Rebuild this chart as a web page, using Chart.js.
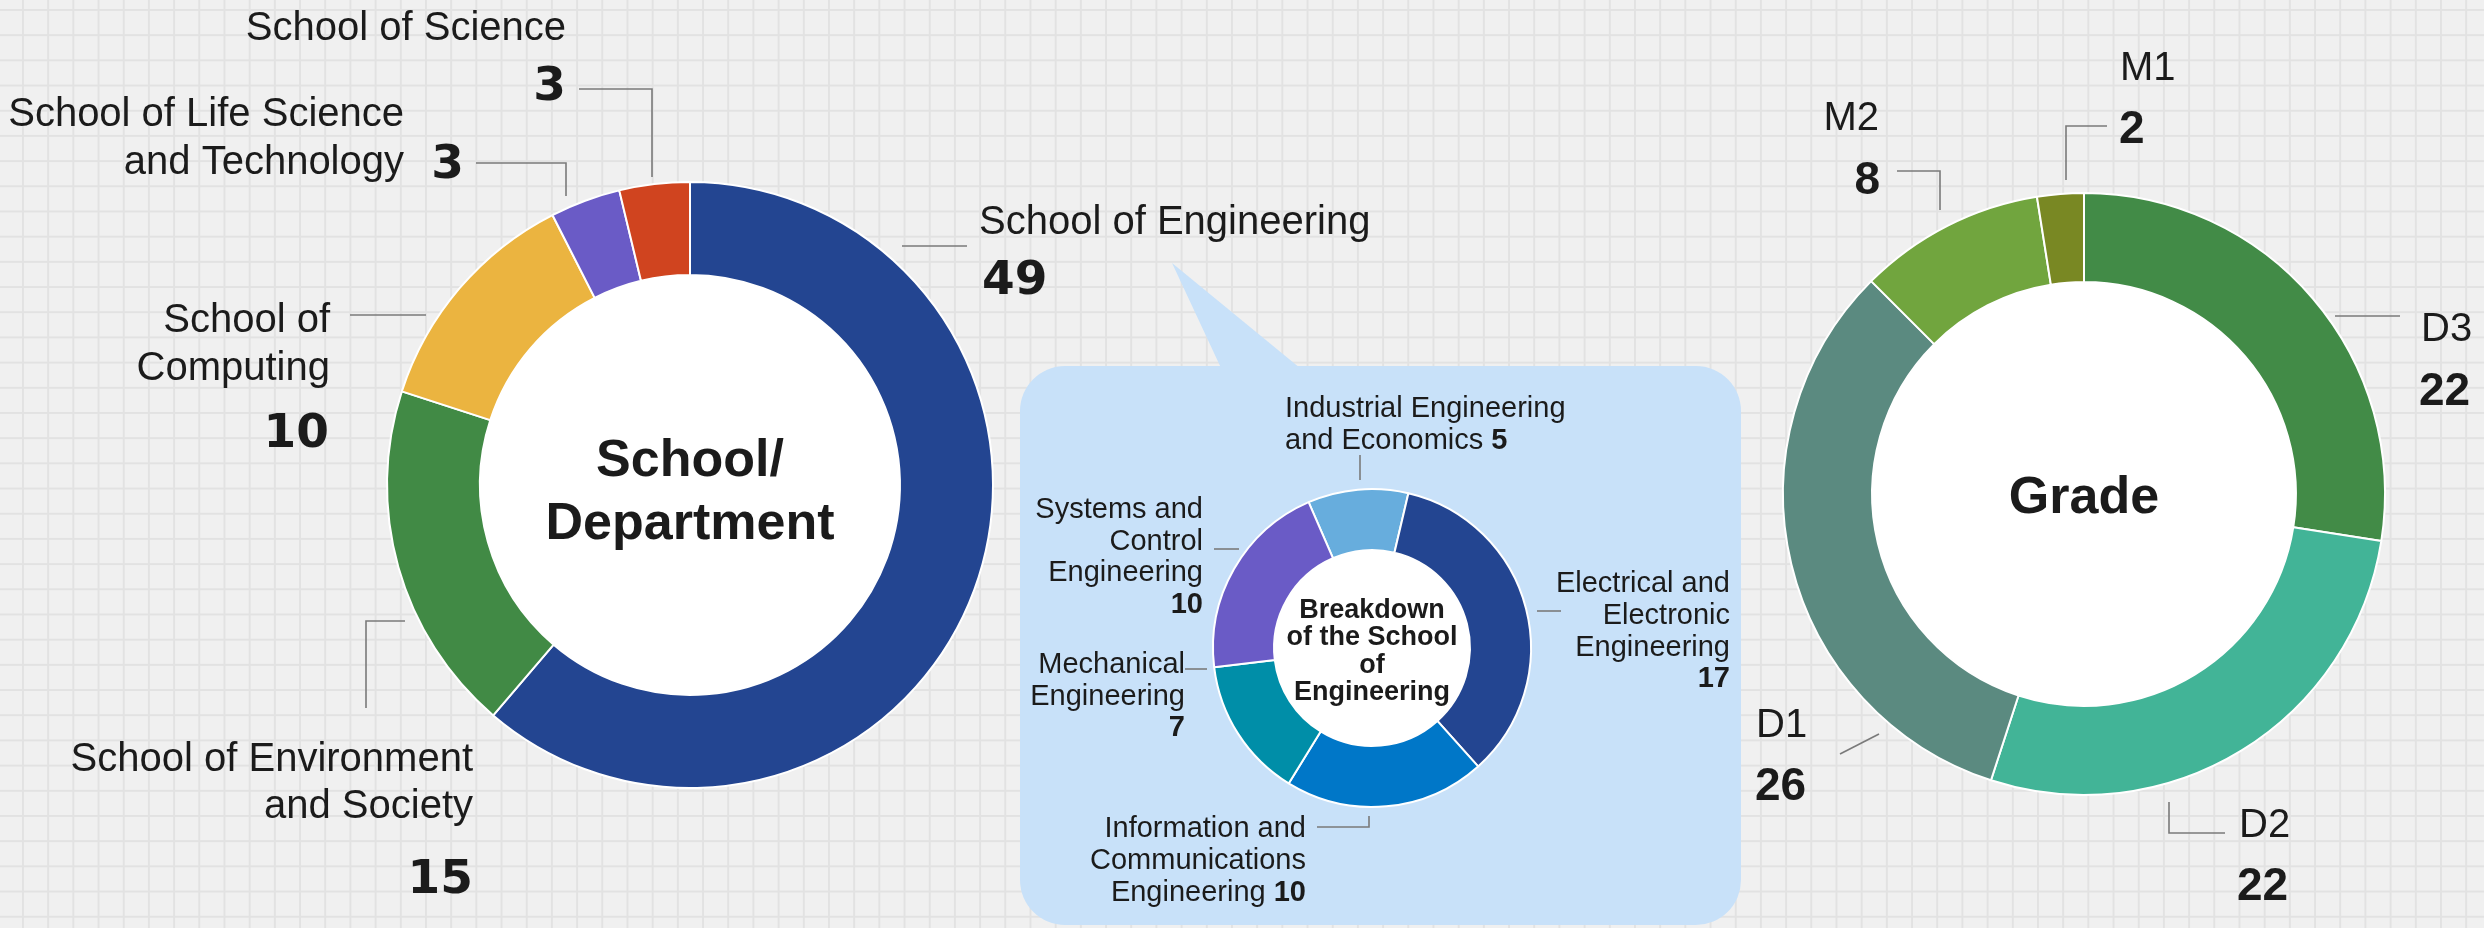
<!DOCTYPE html>
<html>
<head>
<meta charset="utf-8">
<title>Students by School/Department and Grade</title>
<script src="https://cdn.jsdelivr.net/npm/chart.js@4.4.1/dist/chart.umd.min.js"></script>
<style>
html, body { margin: 0; padding: 0; }
body {
  width: 2484px; height: 928px; overflow: hidden; position: relative;
  background-color: #f0f0f0;
  background-image:
    linear-gradient(to right, #e2e2e2 0, #e2e2e2 1.6px, transparent 1.6px),
    linear-gradient(to bottom, #e2e2e2 0, #e2e2e2 1.6px, transparent 1.6px);
  background-size: 25.2px 25.2px;
  background-position: 22px 9px;
}
canvas { position: absolute; left: 0; top: 0; }
</style>
</head>
<body>
<canvas id="schoolChart" width="2484" height="928"></canvas>
<canvas id="engChart" width="2484" height="928"></canvas>
<canvas id="gradeChart" width="2484" height="928"></canvas>
<script>
// ---------- DATA ----------
const schoolCategories = ['School of Engineering', 'School of Environment and Society', 'School of Computing', 'School of Life Science and Technology', 'School of Science'];
const schoolValues = [49, 15, 10, 3, 3];
const schoolTitle = ['School/', 'Department'];

const engCategories = ['Industrial Engineering and Economics', 'Electrical and Electronic Engineering', 'Information and Communications Engineering', 'Mechanical Engineering', 'Systems and Control Engineering'];
const engValues = [5, 17, 10, 7, 10];
const engTitle = ['Breakdown', 'of the School', 'of', 'Engineering'];

const gradeCategories = ['D3', 'D2', 'D1', 'M2', 'M1'];
const gradeValues = [22, 22, 26, 8, 2];
const gradeTitle = ['Grade'];

// ---------- STYLES ----------
const schoolColors = ['#234591', '#418a45', '#ebb440', '#6a5bc6', '#d0441f'];
const engColors = ['#67addd', '#234591', '#0077c8', '#008ea8', '#6a5bc6'];
const gradeColors = ['#428b47', '#42b497', '#5b8a80', '#71a53e', '#798823'];

const W = 2484, H = 928;
const TEXT = '#1b1b1b';
const LEADER = '#7a7a7a';

// label layout (break = words per line, positions in canvas px)
const schoolLayout = [
  { breaks: [3], align: 'left', x: 979, y: 234, lh: 48, vx: 982, vy: 294, valign: 'left', leader: [[902, 246], [967, 246]] },
  { breaks: [3, 2], align: 'right', x: 473, y: 771, lh: 47, vx: 473, vy: 893, valign: 'right', leader: [[405, 621], [366, 621], [366, 708]] },
  { breaks: [2, 1], align: 'right', x: 330, y: 332, lh: 48, vx: 329, vy: 447, valign: 'right', leader: [[350, 315], [426, 315]] },
  { breaks: [4, 2], align: 'right', x: 404, y: 126, lh: 48, vx: 464, vy: 178, valign: 'right', leader: [[476, 163], [566, 163], [566, 196]] },
  { breaks: [3], align: 'right', x: 566, y: 40, lh: 48, vx: 566, vy: 100, valign: 'right', leader: [[579, 89], [652, 89], [652, 177]] }
];
const engLayout = [
  { breaks: [2, 2], align: 'left', x: 1285, y: 417, lh: 31.5, inline: true, leader: [[1360, 455], [1360, 480]] },
  { breaks: [2, 1, 1], align: 'right', x: 1730, y: 592, lh: 32, vx: 1730, vy: 687, valign: 'right', leader: [[1537, 611], [1561, 611]] },
  { breaks: [2, 1, 1], align: 'right', x: 1306, y: 837, lh: 32, inline: true, leader: [[1317, 827], [1369, 827], [1369, 816]] },
  { breaks: [1, 1], align: 'right', x: 1185, y: 673, lh: 31.5, vx: 1185, vy: 736, valign: 'right', leader: [[1185, 669], [1207, 669]] },
  { breaks: [2, 1, 1], align: 'right', x: 1203, y: 518, lh: 31.5, vx: 1203, vy: 613, valign: 'right', leader: [[1214, 549], [1239, 549]] }
];
const gradeLayout = [
  { breaks: [1], align: 'left', x: 2421, y: 341, lh: 0, vx: 2419, vy: 405, valign: 'left', leader: [[2335, 316], [2400, 316]] },
  { breaks: [1], align: 'left', x: 2239, y: 837, lh: 0, vx: 2237, vy: 900, valign: 'left', leader: [[2169, 802], [2169, 833], [2225, 833]] },
  { breaks: [1], align: 'left', x: 1756, y: 737, lh: 0, vx: 1755, vy: 800, valign: 'left', leader: [[1840, 754], [1879, 734]] },
  { breaks: [1], align: 'right', x: 1879, y: 130, lh: 0, vx: 1880, vy: 194, valign: 'right', leader: [[1897, 171], [1940, 171], [1940, 210]] },
  { breaks: [1], align: 'left', x: 2120, y: 80, lh: 0, vx: 2119, vy: 143, valign: 'left', leader: [[2107, 126], [2066, 126], [2066, 180]] }
];

function splitWords(name, breaks) {
  const words = name.split(' ');
  const lines = [];
  let i = 0;
  breaks.forEach(n => { lines.push(words.slice(i, i + n).join(' ')); i += n; });
  return lines;
}

function drawRuns(ctx, runs, x, y, align) {
  const widths = runs.map(r => { ctx.font = r.font; return ctx.measureText(r.text).width; });
  const total = widths.reduce((a, b) => a + b, 0);
  let start = align === 'right' ? x - total : (align === 'center' ? x - total / 2 : x);
  ctx.textAlign = 'left';
  ctx.textBaseline = 'alphabetic';
  runs.forEach((r, i) => { ctx.font = r.font; ctx.fillText(r.text, start, y); start += widths[i]; });
}

function makePlugin(cfg) {
  return {
    id: 'ringLabels_' + cfg.key,
    beforeDraw(chart) {
      if (!cfg.callout) return;
      const ctx = chart.ctx, c = cfg.callout;
      ctx.save();
      ctx.fillStyle = c.color;
      ctx.beginPath();
      ctx.roundRect(c.x0, c.y0, c.x1 - c.x0, c.y1 - c.y0, c.r);
      ctx.fill();
      ctx.beginPath();
      ctx.moveTo(c.tip[0], c.tip[1]);
      ctx.lineTo(c.base[0], c.y0 + 2);
      ctx.lineTo(c.base[1], c.y0 + 2);
      ctx.closePath();
      ctx.fill();
      ctx.restore();
    },
    beforeDatasetsDraw(chart) {
      const ctx = chart.ctx;
      const a = chart.getDatasetMeta(0).data[0];
      ctx.save();
      ctx.beginPath();
      ctx.arc(a.x, a.y, a.innerRadius + 1, 0, Math.PI * 2);
      ctx.fillStyle = '#ffffff';
      ctx.fill();
      ctx.restore();
    },
    afterDraw(chart) {
      const ctx = chart.ctx;
      const a = chart.getDatasetMeta(0).data[0];
      ctx.save();
      ctx.fillStyle = TEXT;
      // centre title
      const t = cfg.title;
      const n = t.length;
      t.forEach((line, i) => {
        drawRuns(ctx, [{ text: line, font: cfg.titleFont }], a.x, a.y + cfg.titleDy + (i - (n - 1) / 2) * cfg.titleLh, 'center');
      });
      // leaders
      ctx.strokeStyle = LEADER;
      ctx.lineWidth = 1.6;
      cfg.layout.forEach(L => {
        ctx.beginPath();
        L.leader.forEach((p, i) => (i ? ctx.lineTo(p[0], p[1]) : ctx.moveTo(p[0], p[1])));
        ctx.stroke();
      });
      // labels
      cfg.categories.forEach((name, i) => {
        const L = cfg.layout[i];
        const lines = splitWords(name, L.breaks);
        const val = String(cfg.values[i]);
        lines.forEach((line, j) => {
          const runs = [{ text: line, font: cfg.nameFont }];
          if (L.inline && j === lines.length - 1) runs.push({ text: ' ' + val, font: cfg.valueFont });
          drawRuns(ctx, runs, L.x, L.y + j * L.lh, L.align);
        });
        if (!L.inline) drawRuns(ctx, [{ text: val, font: cfg.valueFont }], L.vx, L.vy, L.valign);
      });
      ctx.restore();
    }
  };
}

function makeChart(canvasId, cfg) {
  const h = cfg.r + 1;
  return new Chart(document.getElementById(canvasId), {
    type: 'doughnut',
    data: {
      labels: cfg.categories,
      datasets: [{
        data: cfg.values,
        backgroundColor: cfg.colors,
        borderColor: '#ffffff',
        borderWidth: 2,
        hoverOffset: 0
      }]
    },
    options: {
      responsive: false,
      animation: false,
      events: [],
      rotation: cfg.rotation,
      cutout: cfg.cutout,
      layout: { padding: { left: cfg.cx - h, top: cfg.cy - h, right: W - (cfg.cx + h), bottom: H - (cfg.cy + h) } },
      plugins: { legend: { display: false }, tooltip: { enabled: false }, title: { display: false } }
    },
    plugins: [makePlugin(cfg)]
  });
}

makeChart('schoolChart', {
  key: 'school', categories: schoolCategories, values: schoolValues, colors: schoolColors,
  cx: 690, cy: 485, r: 303, cutout: '69.3%', rotation: 0,
  layout: schoolLayout,
  nameFont: "40px 'Liberation Sans', Arial, sans-serif",
  valueFont: "bold 47px 'DejaVu Sans', sans-serif",
  title: schoolTitle, titleFont: "bold 52px 'Liberation Sans', Arial, sans-serif", titleDy: 22, titleLh: 63
});

makeChart('engChart', {
  key: 'eng', categories: engCategories, values: engValues, colors: engColors,
  cx: 1372, cy: 648, r: 159, cutout: '61.6%', rotation: -23.5,
  layout: engLayout,
  nameFont: "29px 'Liberation Sans', Arial, sans-serif",
  valueFont: "bold 29px 'Liberation Sans', Arial, sans-serif",
  title: engTitle, titleFont: "bold 27px 'Liberation Sans', Arial, sans-serif", titleDy: 11, titleLh: 27.2,
  callout: { color: '#c8e1f9', x0: 1020, y0: 366, x1: 1741, y1: 925, r: 45, tip: [1172, 263], base: [1221, 1300] }
});

makeChart('gradeChart', {
  key: 'grade', categories: gradeCategories, values: gradeValues, colors: gradeColors,
  cx: 2084, cy: 494, r: 301, cutout: '70.4%', rotation: 0,
  layout: gradeLayout,
  nameFont: "40px 'Liberation Sans', Arial, sans-serif",
  valueFont: "bold 46px 'Liberation Sans', Arial, sans-serif",
  title: gradeTitle, titleFont: "bold 52px 'Liberation Sans', Arial, sans-serif", titleDy: 19, titleLh: 0
});
</script>
</body>
</html>
